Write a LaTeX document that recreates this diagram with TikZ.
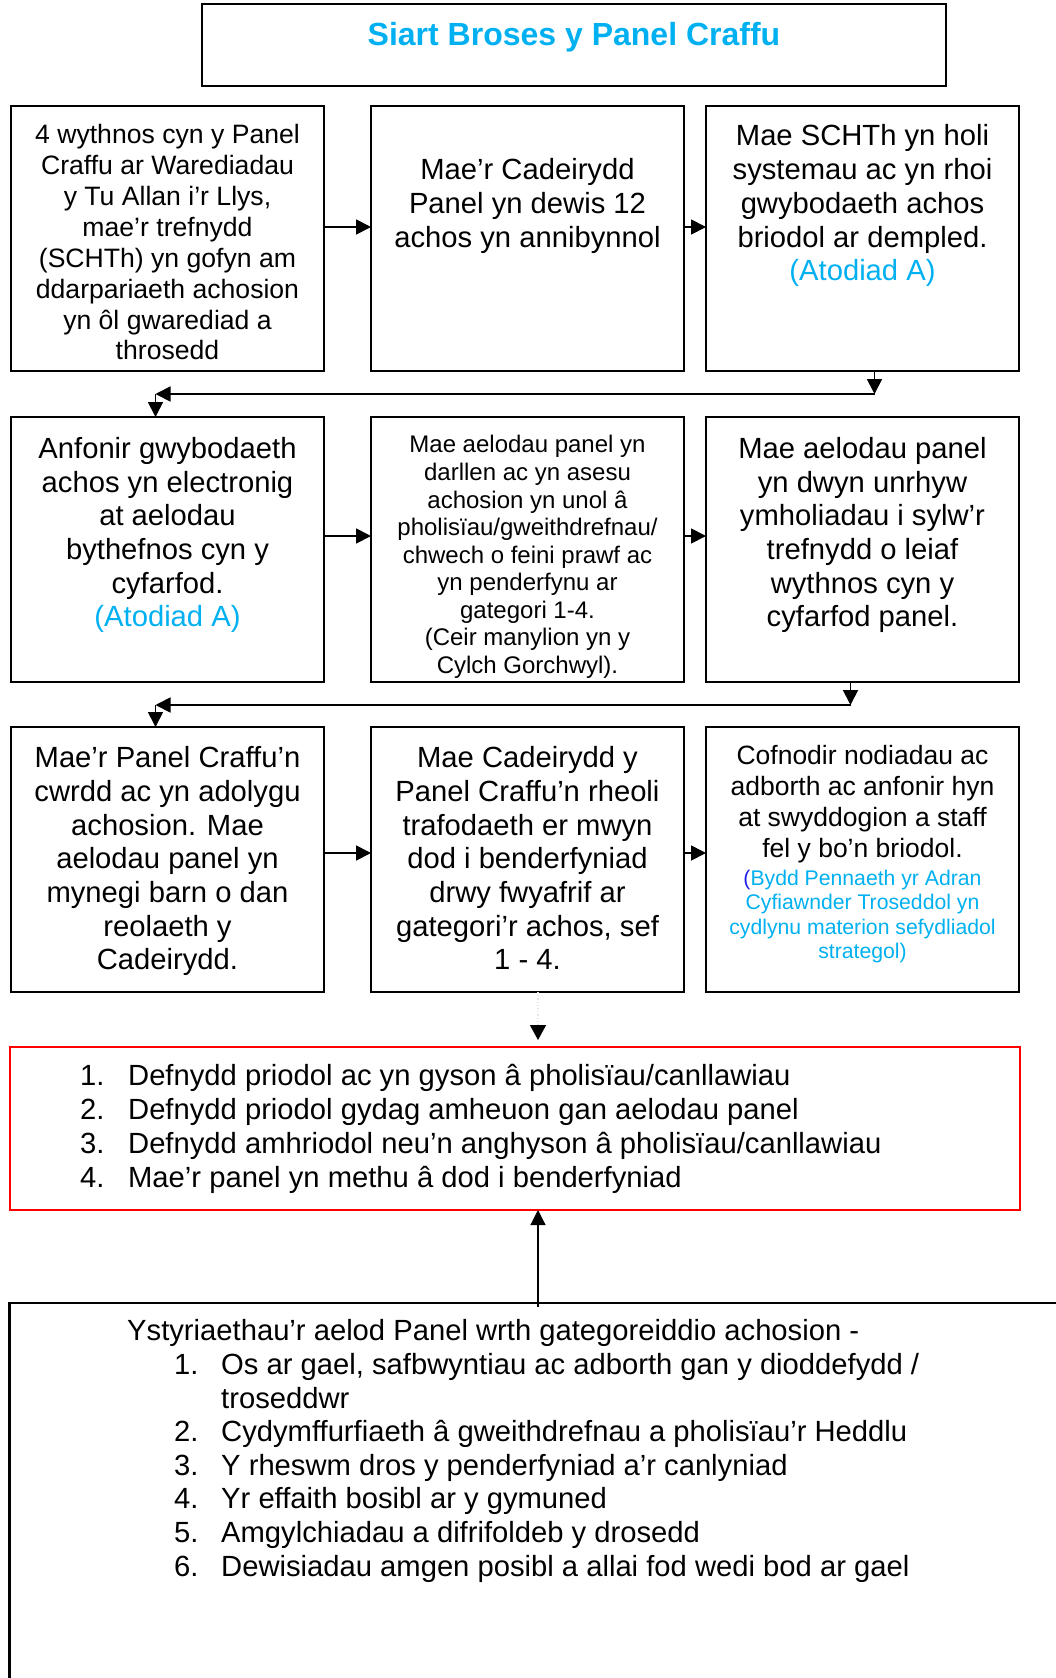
\documentclass[tikz,border=0pt]{standalone}
\usepackage{fontspec}
\setmainfont{Liberation Sans}
\usepackage{xcolor}
\usepackage{tikz}
\usetikzlibrary{arrows.meta}
\usetikzlibrary{positioning}
\definecolor{atodiad}{RGB}{0,176,240}
\definecolor{bracket}{RGB}{30,30,235}
\definecolor{result}{RGB}{255,0,0}
\tikzstyle{block} = [rectangle, draw, line width=2.2pt, 
    minimum width=313pt, minimum height=265pt, inner sep=0pt, outer sep=0pt]
\tikzstyle{body} = [align=center, inner sep=0pt, font=\fontsize{29.2}{33.7}\selectfont,
    execute at begin node=\strut, execute at end node=\strut]
\tikzstyle{listing} = [align=left, inner sep=0pt, anchor=north west,
    execute at begin node=\strut, execute at end node=\strut]
\tikzstyle{line} = [draw, line width=1.8pt, -{Triangle[length=15pt,width=15pt]}]

\begin{document}
\begin{tikzpicture}[x=1pt,y=-1pt]
    \useasboundingbox (0,0) rectangle (1055,1678);
    % Title
    \node [block, minimum width=744pt, minimum height=82pt] (ttl) at (574,45) {};
    \node [anchor=base, inner sep=0pt, text=atodiad, font=\fontsize{32}{38}\selectfont\bfseries]
        (ttlt) at ([yshift=-41.5pt]ttl.north) {Siart Broses y Panel Craffu};
    % Place boxes
    \node [block] (a1) at (167.5,238.5) {};
    \node [block, right=47pt of a1] (b1) {};
    \node [block, right=22pt of b1] (c1) {};
    \node [block, below=46pt of a1] (a2) {};
    \node [block, right=47pt of a2] (b2) {};
    \node [block, right=22pt of b2] (c2) {};
    \node [block, below=45pt of a2] (a3) {};
    \node [block, right=47pt of a3] (b3) {};
    \node [block, right=22pt of b3] (c3) {};
    % Box texts
    \node [body, font=\fontsize{26.6}{30.9}\selectfont] (a1t) at ([yshift=-140.8pt]a1.north)
        {4 wythnos cyn y Panel\\Craffu ar Warediadau\\y Tu Allan i’r Llys,\\mae’r trefnydd\\(SCHTh) yn gofyn am\\ddarpariaeth achosion\\yn ôl gwarediad a\\throsedd};
    \node [body] (b1t) at ([yshift=-101.8pt]b1.north)
        {Mae’r Cadeirydd\\Panel yn dewis 12\\achos yn annibynnol};
    \node [body] (c1t) at ([yshift=-101.8pt]c1.north)
        {Mae SCHTh yn holi\\systemau ac yn rhoi\\gwybodaeth achos\\briodol ar dempled.\\\textcolor{atodiad}{(Atodiad A)}};
    \node [body] (a2t) at ([yshift=-120.2pt]a2.north)
        {Anfonir gwybodaeth\\achos yn electronig\\at aelodau\\bythefnos cyn y\\cyfarfod.\\\textcolor{atodiad}{(Atodiad A)}};
    \node [body, font=\fontsize{24}{27.56}\selectfont] (b2t) at ([yshift=-141.6pt]b2.north)
        {Mae aelodau panel yn\\darllen ac yn asesu\\achosion yn unol â\\pholisïau/gweithdrefnau/\\chwech o feini prawf ac\\yn penderfynu ar\\gategori 1-4.\\(Ceir manylion yn y\\Cylch Gorchwyl).};
    \node [body] (c2t) at ([yshift=-120.2pt]c2.north)
        {Mae aelodau panel\\yn dwyn unrhyw\\ymholiadau i sylw’r\\trefnydd o leiaf\\wythnos cyn y\\cyfarfod panel.};
    \node [body] (a3t) at ([yshift=-136.2pt]a3.north)
        {Mae’r Panel Craffu’n\\cwrdd ac yn adolygu\\achosion. Mae\\aelodau panel yn\\mynegi barn o dan\\reolaeth y\\Cadeirydd.};
    \node [body] (b3t) at ([yshift=-136.2pt]b3.north)
        {Mae Cadeirydd y\\Panel Craffu’n rheoli\\trafodaeth er mwyn\\dod i benderfyniad\\drwy fwyafrif ar\\gategori’r achos, sef\\1 - 4.};
    \node [body, font=\fontsize{26.5}{31}\selectfont] (c3t) at ([yshift=-79.5pt]c3.north)
        {Cofnodir nodiadau ac\\adborth ac anfonir hyn\\at swyddogion a staff\\fel y bo’n briodol.};
    \node [body, text=atodiad, font=\fontsize{21.2}{24.6}\selectfont] (c3n) at ([yshift=-191pt]c3.north)
        {\textcolor{bracket}{(}Bydd Pennaeth yr Adran\\Cyfiawnder Troseddol yn\\cydlynu materion sefydliadol\\strategol)};
    % Outcome and considerations
    \node [block, draw=result, minimum width=1010pt, minimum height=163pt] (res) at (515,1128.5) {};
    \node [listing, font=\fontsize{29.2}{34}\selectfont] (rest) at ([xshift=70pt,yshift=-17pt]res.north west)
        {\makebox[48pt][l]{1.}Defnydd priodol ac yn gyson â pholisïau/canllawiau\\
         \makebox[48pt][l]{2.}Defnydd priodol gydag amheuon gan aelodau panel\\
         \makebox[48pt][l]{3.}Defnydd amhriodol neu’n anghyson â pholisïau/canllawiau\\
         \makebox[48pt][l]{4.}Mae’r panel yn methu â dod i benderfyniad};
    \node [draw=none, anchor=north west, minimum width=1046pt, minimum height=376pt,
        inner sep=0pt, outer sep=0pt] (cons) at (9.5,1303) {};
    \draw [line width=2.2pt] (cons.north east) -- (cons.north west) -- (cons.south west);
    \node [listing, font=\fontsize{29.2}{33.6}\selectfont] (const) at ([xshift=117.5pt,yshift=-16.5pt]cons.north west)
        {Ystyriaethau’r aelod Panel wrth gategoreiddio achosion -\\
         \hspace*{47pt}\makebox[47pt][l]{1.}Os ar gael, safbwyntiau ac adborth gan y dioddefydd /\\
         \hspace*{94pt}troseddwr\\
         \hspace*{47pt}\makebox[47pt][l]{2.}Cydymffurfiaeth â gweithdrefnau a pholisïau’r Heddlu\\
         \hspace*{47pt}\makebox[47pt][l]{3.}Y rheswm dros y penderfyniad a’r canlyniad\\
         \hspace*{47pt}\makebox[47pt][l]{4.}Yr effaith bosibl ar y gymuned\\
         \hspace*{47pt}\makebox[47pt][l]{5.}Amgylchiadau a difrifoldeb y drosedd\\
         \hspace*{47pt}\makebox[47pt][l]{6.}Dewisiadau amgen posibl a allai fod wedi bod ar gael};
    % Draw edges
    \path [line] ([yshift=11.5pt]a1.east) -- ([yshift=11.5pt]b1.west);
    \path [line] ([yshift=11.5pt]b1.east) -- ([yshift=11.5pt]c1.west);
    \path [line] ([yshift=13.5pt]a2.east) -- ([yshift=13.5pt]b2.west);
    \path [line] ([yshift=13.5pt]b2.east) -- ([yshift=13.5pt]c2.west);
    \path [line] ([yshift=6.5pt]a3.east) -- ([yshift=6.5pt]b3.west);
    \path [line] ([yshift=6.5pt]b3.east) -- ([yshift=6.5pt]c3.west);
    \coordinate (r1r) at ([xshift=12pt,yshift=-23pt]c1.south);
    \coordinate (r1l) at ([xshift=-12pt,yshift=-23pt]a1.south);
    \path [line] ([xshift=12pt]c1.south) -- (r1r);
    \path [line] (r1r) -- (r1l);
    \path [line] (r1l) -- (r1l |- a2.north);
    \coordinate (r2r) at ([xshift=-12pt,yshift=-23pt]c2.south);
    \coordinate (r2l) at ([xshift=-12pt,yshift=-23pt]a2.south);
    \path [line] ([xshift=-12pt]c2.south) -- (r2r);
    \path [line] (r2r) -- (r2l);
    \path [line] (r2l) -- (r2l |- a3.north);
    \coordinate (dn) at ([xshift=23pt,yshift=7pt]res.north);
    \draw [black!10, dotted, line width=1.2pt, -{Triangle[length=15pt,width=16pt,color=black]}]
        (b3.south -| dn) -- (dn);
    \coordinate (up) at (538,1307);
    \path [line, line width=1.2pt] (up) -- (up |- res.south);
\end{tikzpicture}
\end{document}
